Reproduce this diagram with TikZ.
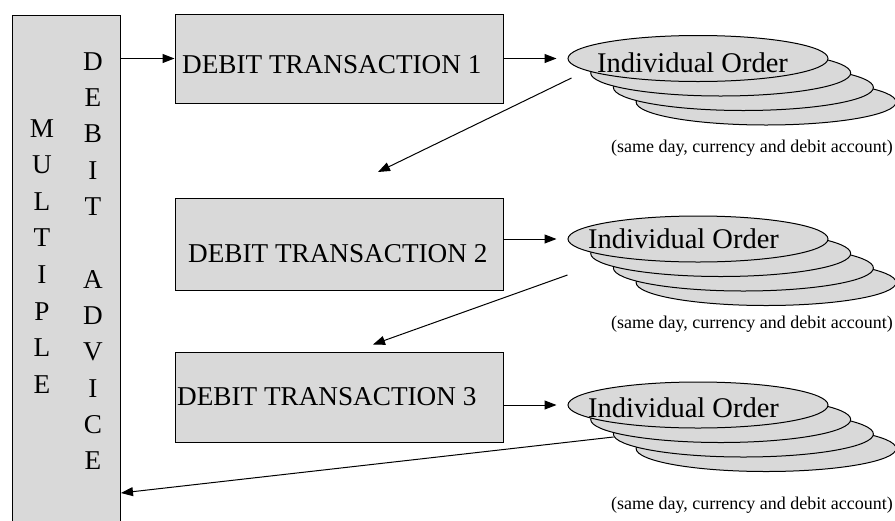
\documentclass[tikz,border=0pt]{standalone}
\usepackage{fontspec}
\setmainfont{Liberation Serif}
\usetikzlibrary{arrows.meta,shapes.geometric,calc}
\definecolor{panelgray}{RGB}{217,217,217}
\begin{document}
\begin{tikzpicture}[x=1pt,y=-1pt,
  panel/.style={draw=black, line width=1pt, fill=panelgray, rectangle, inner sep=0pt},
  order/.style={draw=black, line width=1pt, fill=panelgray, ellipse, inner sep=0pt,
                minimum width=260pt, minimum height=46pt},
  bigtxt/.style={font=\fontsize{27.2}{33}\selectfont, inner sep=0pt, anchor=base west},
  lettr/.style={font=\fontsize{27.2}{33}\selectfont, inner sep=0pt, anchor=base},
  ordtxt/.style={font=\fontsize{28.5}{34}\selectfont, inner sep=0pt, anchor=base west},
  note/.style={font=\fontsize{18}{22}\selectfont, inner sep=0pt, anchor=base east},
  arr/.style={line width=1pt, -{Triangle[length=12pt,width=9pt]}}]

\useasboundingbox (0,0) rectangle (895,520);

% tall advice panel on the left (runs off the bottom edge)
\node[panel, minimum width=108pt, minimum height=530pt, anchor=north west] (adv) at (12,15) {};
\foreach \ch [count=\k from 0] in {M,U,L,T,I,P,L,E}
  \node[lettr] (mul\k) at (42,{137+36.6*\k}) {\ch};
\foreach \ch/\k in {D/0,E/1,B/2,I/3,T/4,A/6,D/7,V/8,I/9,C/10,E/11}
  \node[lettr] (dba\k) at (93,{70+36.36*\k}) {\ch};

% debit transaction boxes
\node[panel, minimum width=328pt, minimum height=89pt] (tx1) at (339,58.5) {};
\node[panel, minimum width=328pt, minimum height=92pt] (tx2) at (339,244) {};
\node[panel, minimum width=328pt, minimum height=90pt] (tx3) at (339,397) {};
\node[bigtxt] (lab1) at (182,73) {DEBIT TRANSACTION 1};
\node[bigtxt] (lab2) at (188,262.5) {DEBIT TRANSACTION 2};
\node[bigtxt] (lab3) at (177,405) {DEBIT TRANSACTION 3};

% stacks of individual orders
\foreach \s/\cy in {1/58.5, 2/239, 3/405} {
  \foreach \j in {3,2,1}
    \node[order] (ord\s-\j) at ({698+22.7*\j},{\cy+14.5*\j}) {};
  \node[order] (ord\s) at (698,\cy) {};
}
\node[ordtxt] (io1) at (597,72) {Individual Order};
\node[ordtxt] (io2) at (588,248) {Individual Order};
\node[ordtxt] (io3) at (588,417) {Individual Order};

\node[note] (cap1) at (893,152) {(same day, currency and debit account)};
\node[note] (cap2) at (893,328) {(same day, currency and debit account)};
\node[note] (cap3) at (893,509) {(same day, currency and debit account)};

% connectors
\draw[arr] (tx1.west -| adv.east) -- (tx1.west);
\foreach \s in {1,2,3}
  \draw[arr] (tx\s.east |- ord\s.west) -- ([shift={(-11,0)}]ord\s.west);

\coordinate (from1) at ([shift={(4,19.5)}]ord1.west);
\coordinate (to1) at (378,172);
\coordinate (from2) at ([shift={(0,36)}]ord2.west);
\coordinate (to2) at ([shift={(34,-7)}]tx3.north);
\coordinate (from3) at ([shift={(46,32)}]ord3.west);
\coordinate (to3) at (adv.east |- 0,493);
\draw[arr] (from1) -- (to1);
\draw[arr] (from2) -- (to2);
\draw[arr] (from3) -- (to3);
\end{tikzpicture}
\end{document}
